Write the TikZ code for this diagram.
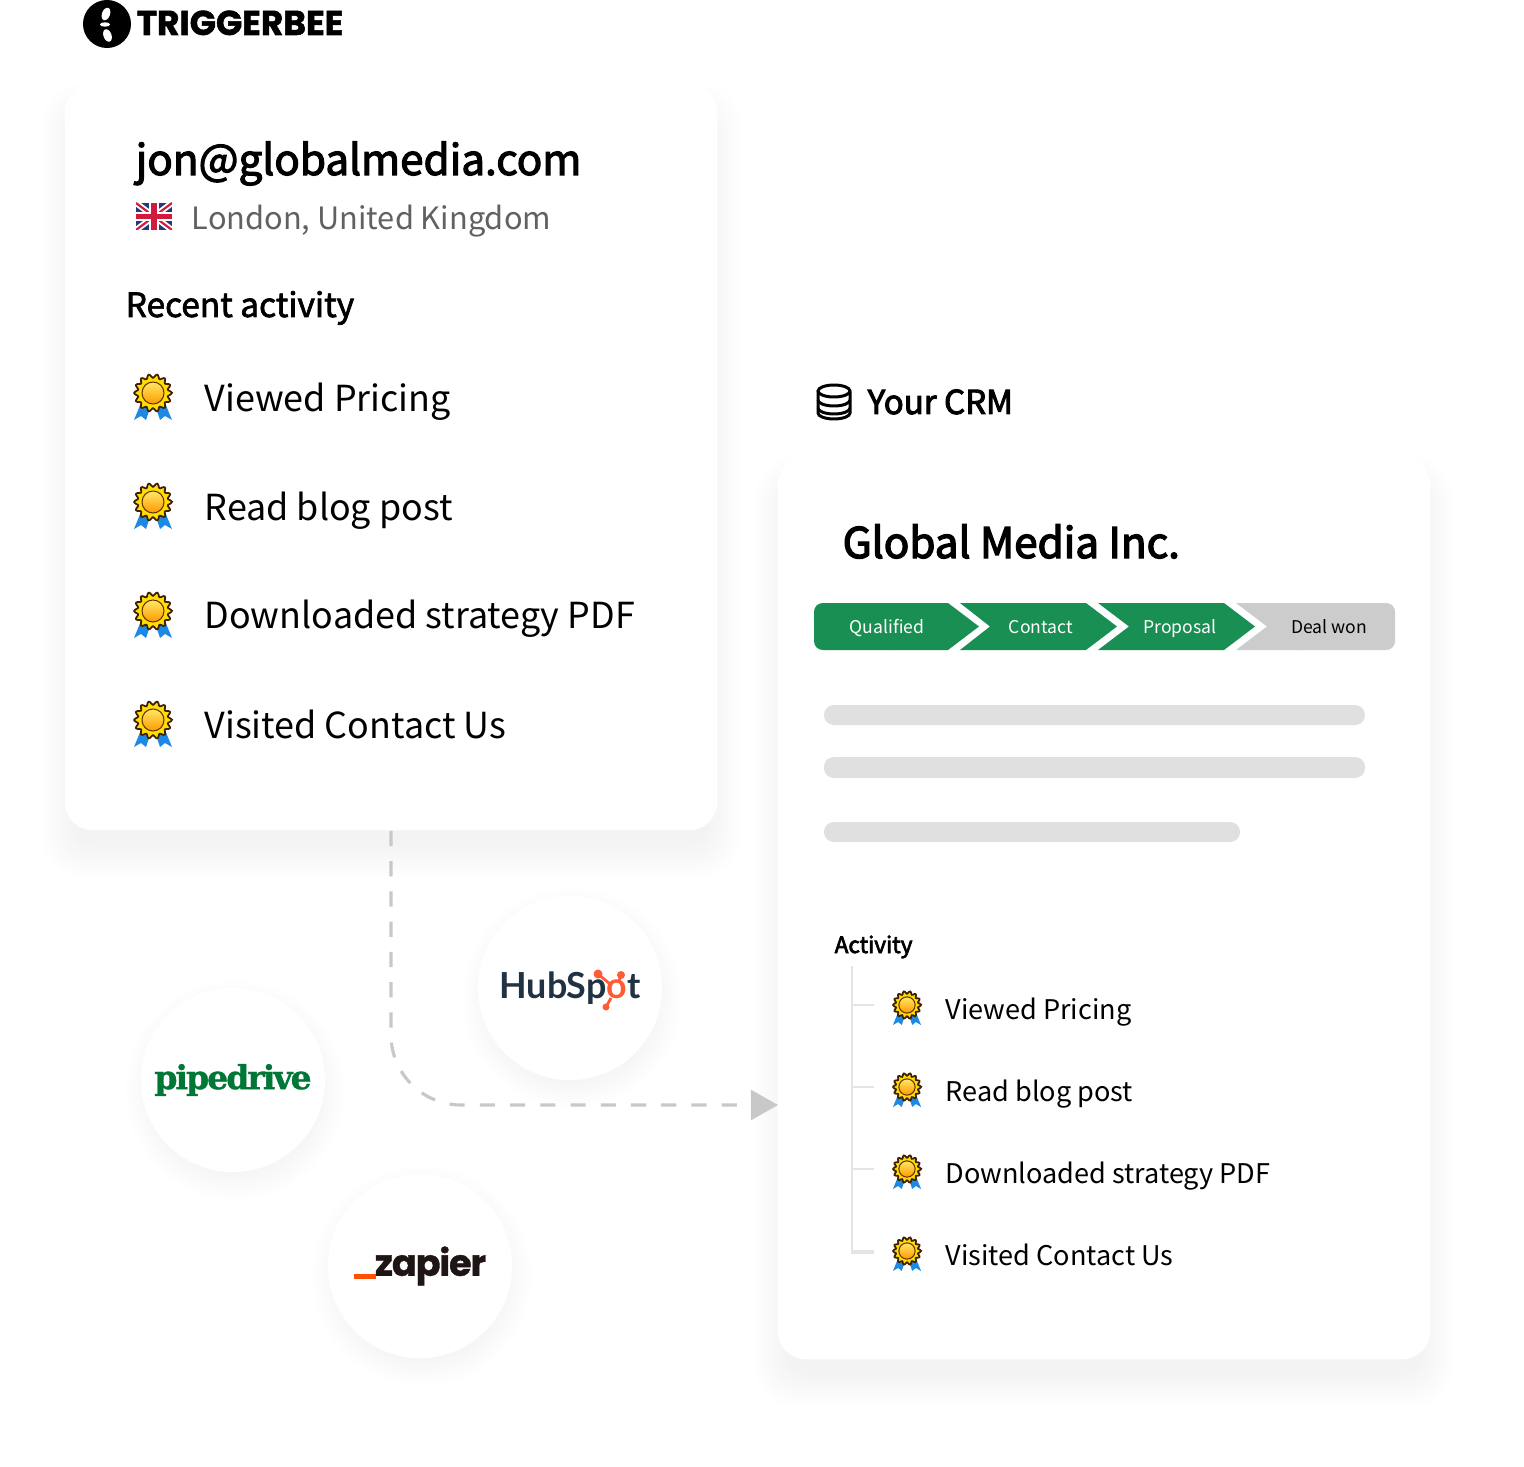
\documentclass[tikz,border=0pt]{standalone}
\usepackage{fontspec}
\usepackage{tikz}
\usetikzlibrary{arrows.meta,calc}
\setmainfont{Noto Sans CJK SC}
\newfontfamily\beefont[BoldFeatures={FakeBold=1.5}]{Poppins}
\newfontfamily\pipefont[BoldFeatures={FakeBold=1}]{DejaVu Serif}
\newfontfamily\hubfont{Lato}
\newfontfamily\zapfont[BoldFeatures={FakeBold=1}]{Poppins}
\newcommand{\heft}[2][0.2]{\special{pdf:code 2 Tr #1 w}#2\special{pdf:code 0 Tr}}
\definecolor{stagegreen}{HTML}{1A8F53}
\definecolor{stagegrey}{HTML}{CCCCCC}
\definecolor{barsgrey}{HTML}{E0E0E0}
\definecolor{treegrey}{HTML}{E4E4E4}
\definecolor{dashgrey}{HTML}{C8C8C8}
\definecolor{pipegreen}{HTML}{017737}
\definecolor{hubnavy}{HTML}{213343}
\definecolor{hubcoral}{HTML}{FF5C35}
\definecolor{zapdark}{HTML}{201515}
\definecolor{zaporange}{HTML}{FF4F00}
\definecolor{flagblue}{HTML}{22397A}
\definecolor{flagred}{HTML}{CF1B3D}
\definecolor{ribbonblue}{HTML}{1E88E5}
\tikzset{
  cardbox/.style={fill=white,rounded corners=8pt,inner sep=0pt},
  logodisc/.style={circle,fill=white,minimum size=1.84cm,inner sep=0pt},
  txt/.style={anchor=base west,inner sep=0pt},
  bigrow/.style={txt,font=\fontsize{10.2}{14}\selectfont},
  smallrow/.style={txt,font=\fontsize{7.7}{11}\selectfont},
  stagetxt/.style={anchor=base,inner sep=0pt,font=\fontsize{5}{8}\selectfont},
  greybar/.style={barsgrey,rounded corners=2.8pt},
  badge/.pic={
    \fill[ribbonblue] (-12,10) -- (-19,27) -- (-12,23) -- (-7,27) -- (-3,15) -- cycle;
    \fill[ribbonblue] (12,10) -- (19,27) -- (12,23) -- (7,27) -- (3,15) -- cycle;
    \draw[fill=yellow!80!orange,draw=black!75!orange,line width=.5pt]
      plot[domain=0:360,samples=113] ({(17+1.8*cos(14*\x))*cos(\x)},{(17+1.8*cos(14*\x))*sin(\x)}) -- cycle;
    \draw[top color=yellow!70!orange!60,bottom color=orange!80!yellow,draw=black!60!orange,line width=.3pt] (0,0) circle [radius=11];
  }
}
\newcommand{\softcard}[4]{
  \foreach \i in {1,...,12}
    \fill[black,opacity=0.0045,rounded corners={(6+\i*.5)*1pt}] ({#1+12-\i*3},{#2+36-\i*3}) rectangle ({#3-12+\i*3},{#4+12+\i*3});
}
\newcommand{\softdisc}[2]{
  \foreach \i in {1,...,10}
    \fill[black,opacity=0.003] ({#1+2},{#2+10}) circle [radius={80+\i*3}];
}
\begin{document}
\begin{tikzpicture}[x=0.01cm,y=-0.01cm]
\useasboundingbox (0,0) rectangle (1524,1467);
\softcard{65}{84}{717}{830}
\softcard{778}{457}{1430}{1359}
\softdisc{233}{1080}
\softdisc{570}{988}
\softdisc{420}{1266}

% trigger logo
\node[circle,fill=black,minimum size=.48cm,inner sep=0pt] (beedisc) at (107,24) {};
\fill[white,rotate around={-20:(106,14)}] (106,14) ellipse [x radius=4,y radius=6.5];
\fill[white] (105,24.5) ellipse [x radius=5,y radius=2.2];
\fill[white,rotate around={20:(107.5,35.5)}] (107.5,35.5) ellipse [x radius=4,y radius=6.5];
\node[txt,font=\beefont\bfseries\fontsize{9.8}{11}\selectfont] (beename) at (136,35) {TRIGGERBEE};

% cards
\node[cardbox,minimum width=6.52cm,minimum height=7.46cm] (leadcard) at (391,457) {};
\node[cardbox,minimum width=6.52cm,minimum height=9.02cm] (crmcard) at (1104,908) {};

% lead card
\node[txt,font=\fontsize{12}{16}\selectfont] (leadmail) at (135,175) {\heft[0.32]{jon@globalmedia.com}};
\begin{scope}
\clip (136,203) rectangle (172,230);
\fill[flagblue] (136,203) rectangle (172,230);
\draw[white,line width=1.7pt] (136,203) -- (172,230) (136,230) -- (172,203);
\draw[flagred,line width=.6pt] (136,203) -- (172,230) (136,230) -- (172,203);
\draw[white,line width=2.7pt] (154,203) -- (154,230) (136,216.5) -- (172,216.5);
\draw[flagred,line width=1.6pt] (154,203) -- (154,230) (136,216.5) -- (172,216.5);
\end{scope}
\node[txt,text=black!62,font=\fontsize{8.75}{12}\selectfont] (leadplace) at (191,230) {London, United Kingdom};
\node[txt,font=\fontsize{9.5}{12}\selectfont] (leadhead) at (125,317) {\heft{Recent activity}};
\foreach \y/\base/\lbl/\nm in {393/412/Viewed Pricing/a,502/520.5/Read blog post/b,611/629/Downloaded strategy PDF/c,720/738/Visited Contact Us/d}{
  \pic at (153,\y) {badge};
  \node[bigrow] (lead\nm) at (204,\base) {\lbl};
}

% crm title
\draw[black,line width=.85pt,fill=white] (818,392) -- (818,413) arc [start angle=180,end angle=360,x radius=16,y radius=-6] -- (850,392);
\draw[black,line width=.85pt,fill=white] (834,391) ellipse [x radius=16,y radius=6];
\draw[black,line width=.85pt] (818,400) arc [start angle=180,end angle=360,x radius=16,y radius=-6];
\draw[black,line width=.85pt] (818,408) arc [start angle=180,end angle=360,x radius=16,y radius=-6];
\node[txt,font=\fontsize{9.4}{12}\selectfont] (crmhead) at (867,414) {\heft[0.28]{Your CRM}};

% crm card
\node[txt,font=\fontsize{12}{16}\selectfont] (crmname) at (842,558) {\heft[0.38]{Global Media Inc.}};
\fill[stagegreen,rounded corners=2.5pt] (814,603) rectangle (900,650);
\fill[stagegreen] (890,603) -- (948,603) -- (979,626.5) -- (948,650) -- (890,650) -- cycle;
\fill[stagegreen] (960,603) -- (1086,603) -- (1117,626.5) -- (1086,650) -- (960,650) -- (990,626.5) -- cycle;
\fill[stagegreen] (1098,603) -- (1224,603) -- (1255,626.5) -- (1224,650) -- (1098,650) -- (1129,626.5) -- cycle;
\fill[stagegrey] (1236,603) -- (1300,603) -- (1300,650) -- (1236,650) -- (1267,626.5) -- cycle;
\fill[stagegrey,rounded corners=2.5pt] (1290,603) rectangle (1395,650);
\node[stagetxt,text=white] (stagea) at (887,633.5) {Qualified};
\node[stagetxt,text=white] (stageb) at (1041,633.5) {Contact};
\node[stagetxt,text=white] (stagec) at (1180,633.5) {Proposal};
\node[stagetxt,text=black] (staged) at (1329,633.5) {Deal won};
\fill[greybar] (824,705) rectangle (1365,725);
\fill[greybar] (824,757) rectangle (1365,778);
\fill[greybar] (824,822) rectangle (1240,842);

\node[txt,font=\fontsize{6.4}{9}\selectfont] (crmact) at (834,953) {\heft{Activity}};
\draw[treegrey,line width=.8pt] (852,966) -- (852,1253) -- (874,1253);
\foreach \y/\lbl/\nm in {1005/Viewed Pricing/a,1087/Read blog post/b,1169/Downloaded strategy PDF/c,1251/Visited Contact Us/d}{
  \draw[treegrey,line width=.8pt] (852,\y) -- (874,\y);
  \pic[scale=.74] at (907,\y) {badge};
  \node[smallrow] (crm\nm) at (945,\y+14) {\lbl};
}

% connector
\coordinate (bend) at (391,1105);
\coordinate (entry) at (778,1105);
\draw[dashgrey,line width=.9pt,dash pattern=on 4.3pt off 4.3pt,rounded corners=20pt,-{Triangle[length=7.7pt,width=8.5pt]}] (leadcard.south) -- (bend) -- (entry);

% logos
\node[logodisc,text=pipegreen,font=\pipefont\bfseries\fontsize{9.4}{12}\selectfont] (pipedisc) at (233,1080) {\addfontfeature{LetterSpace=-6}pipedrive};
\node[logodisc,text=hubnavy,font=\hubfont\bfseries\fontsize{10.2}{12}\selectfont] (hubdisc) at (570,988) {\raisebox{-1.1pt}{HubSp{\color{hubcoral}o}t}};
\draw[hubcoral,line width=.8pt] (598,974) -- (610,984) (621,975) -- (619,981) (606,1007) -- (611,998);
\fill[hubcoral] (598,974) circle [radius=4.5] (621,975) circle [radius=4] (606,1007) circle [radius=3.5];
\node[logodisc,text=zapdark,font=\zapfont\bfseries\fontsize{10.4}{12}\selectfont] (zapdisc) at (420,1266) {\raisebox{-1.1pt}{\hspace{6pt}\addfontfeature{LetterSpace=-3}zapier}};
\fill[zaporange] (354,1274) rectangle (376,1279);
\end{tikzpicture}
\end{document}
